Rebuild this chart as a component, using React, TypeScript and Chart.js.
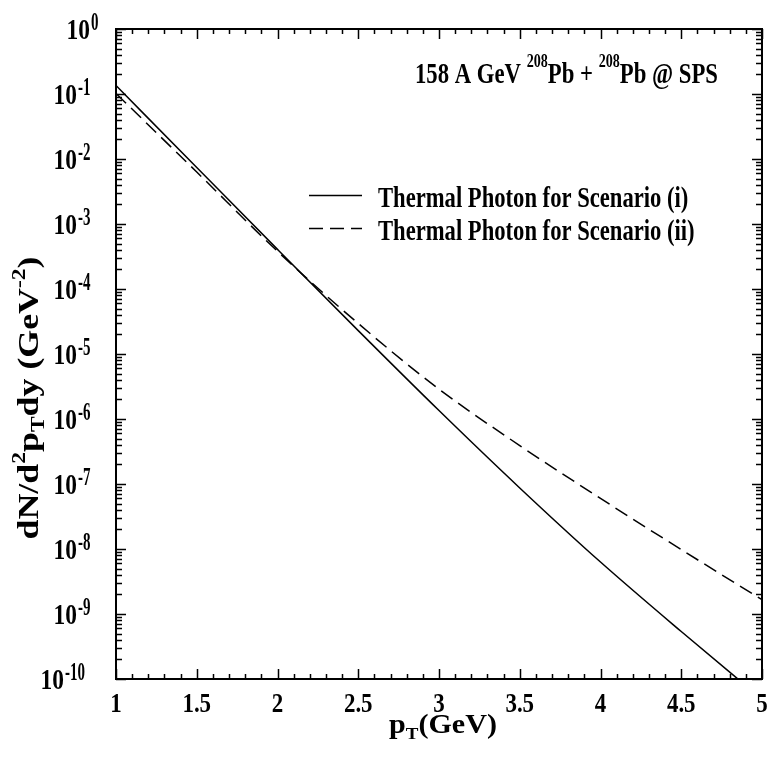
import { useEffect, useRef } from 'react';
import { Chart, registerables } from 'chart.js';

Chart.register(...registerables);

const pT = [1, 1.5, 2, 2.5, 3, 3.5, 4, 4.5, 5];
const scenarioI = [1.35e-1, 7.4e-3, 4.07e-4, 2.29e-5, 1.35e-6, 8.7e-8, 6.3e-9, 5.37e-10, 4.9e-11];
const scenarioII = [1.02e-1, 6.3e-3, 3.8e-4, 2.95e-5, 2.88e-6, 3.9e-7, 6.0e-8, 9.8e-9, 1.66e-9];
const xTickLabels = ['1', '1.5', '2', '2.5', '3', '3.5', '4', '4.5', '5'];
const yExponents = ['0', '-1', '-2', '-3', '-4', '-5', '-6', '-7', '-8', '-9', '-10'];
const legendLabels = ['Thermal Photon for Scenario (i)', 'Thermal Photon for Scenario (ii)'];

const FONT = '"Liberation Serif", "Times New Roman", serif';

type Part = { t: string; size: number; dy?: number };

function font(size: number) {
  return `bold ${size}px ${FONT}`;
}

function richWidth(ctx: CanvasRenderingContext2D, parts: Part[]) {
  let w = 0;
  for (const p of parts) {
    ctx.font = font(p.size);
    w += ctx.measureText(p.t).width;
  }
  return w;
}

function drawRich(ctx: CanvasRenderingContext2D, parts: Part[], x: number, y: number, sx: number) {
  ctx.save();
  ctx.translate(x, y);
  ctx.scale(sx, 1);
  ctx.textAlign = 'left';
  ctx.textBaseline = 'alphabetic';
  let cx = 0;
  for (const p of parts) {
    ctx.font = font(p.size);
    ctx.fillText(p.t, cx, p.dy || 0);
    cx += ctx.measureText(p.t).width;
  }
  ctx.restore();
}

const framePlugin = {
  id: 'framePlugin',
  afterDraw(chart: any) {
    const ctx: CanvasRenderingContext2D = chart.ctx;
    const { left, right, top, bottom } = chart.chartArea;
    const xs = chart.scales.x;
    const ys = chart.scales.y;
    ctx.save();
    ctx.fillStyle = '#000';
    ctx.strokeStyle = '#000';

    ctx.lineWidth = 1.5;
    ctx.beginPath();
    for (let i = 0; i <= 40; i++) {
      const v = 1 + i * 0.1;
      const px = Math.round(xs.getPixelForValue(v)) + 0.5;
      const len = i % 5 === 0 ? 10 : 5;
      ctx.moveTo(px, bottom);
      ctx.lineTo(px, bottom - len);
      ctx.moveTo(px, top);
      ctx.lineTo(px, top + len);
    }
    for (let k = 0; k >= -10; k--) {
      for (let m = 1; m <= 9; m++) {
        if (k === 0 && m > 1) break;
        const v = m * Math.pow(10, k);
        const py = Math.round(ys.getPixelForValue(v)) + 0.5;
        const len = m === 1 ? 10 : 6;
        ctx.moveTo(left, py);
        ctx.lineTo(left + len, py);
        ctx.moveTo(right, py);
        ctx.lineTo(right - len, py);
      }
    }
    ctx.stroke();

    ctx.lineWidth = 2;
    ctx.strokeRect(left, top, right - left, bottom - top);

    // x tick labels
    xTickLabels.forEach((lab, i) => {
      const px = xs.getPixelForValue(pT[i]);
      const parts = [{ t: lab, size: 28 }];
      const sx = 0.82;
      const w = richWidth(ctx, parts) * sx;
      drawRich(ctx, parts, px - w / 2, 712, sx);
    });

    // y tick labels
    yExponents.forEach((e, i) => {
      const py = ys.getPixelForValue(Math.pow(10, -i));
      const tenRight = 90 - 13 * (e.length - 1);
      ctx.font = font(30);
      const tenW = ctx.measureText('10').width * 0.78;
      drawRich(ctx, [{ t: '10', size: 30 }], tenRight - tenW, py + 10, 0.78);
      drawRich(ctx, [{ t: e, size: 25 }], tenRight + 1, py + 1, 0.6);
    });

    // x title
    const xt: Part[] = [
      { t: 'p', size: 27 },
      { t: 'T', size: 17, dy: 6 },
      { t: '(GeV)', size: 27 },
    ];
    {
      const target = 108;
      const sx = target / richWidth(ctx, xt);
      drawRich(ctx, xt, 443 - target / 2, 733, sx);
    }

    // y title
    const yt: Part[] = [
      { t: 'dN/d', size: 29 },
      { t: '2', size: 19, dy: -13 },
      { t: 'p', size: 29 },
      { t: 'T', size: 19, dy: 6 },
      { t: 'dy (GeV', size: 29 },
      { t: '-2', size: 19, dy: -13 },
      { t: ')', size: 29 },
    ];
    {
      const target = 283;
      const sx = target / richWidth(ctx, yt);
      ctx.save();
      ctx.translate(38, 398);
      ctx.rotate(-Math.PI / 2);
      drawRich(ctx, yt, -target / 2, 0, sx);
      ctx.restore();
    }

    // title
    const tt: Part[] = [
      { t: '158 A GeV ', size: 29 },
      { t: '208', size: 18, dy: -16 },
      { t: 'Pb + ', size: 29 },
      { t: '208', size: 18, dy: -16 },
      { t: 'Pb @ SPS', size: 29 },
    ];
    {
      const target = 303;
      const sx = target / richWidth(ctx, tt);
      drawRich(ctx, tt, 415, 83, sx);
    }

    // legend
    const rows = [
      { y: 195, dash: [] as number[] },
      { y: 228, dash: [14, 7] },
    ];
    rows.forEach((r, i) => {
      ctx.save();
      ctx.lineWidth = 1.5;
      ctx.setLineDash(r.dash);
      ctx.beginPath();
      ctx.moveTo(309, r.y + 0.5);
      ctx.lineTo(362, r.y + 0.5);
      ctx.stroke();
      ctx.restore();
      drawRich(ctx, [{ t: legendLabels[i], size: 29 }], 378, r.y + 12, 0.78);
    });

    ctx.restore();
  },
};

export default function App() {
  const ref = useRef<HTMLCanvasElement | null>(null);
  useEffect(() => {
    if (!ref.current) return;
    const chart = new Chart(ref.current, {
      type: 'line',
      data: {
        datasets: [
          {
            label: legendLabels[0],
            data: pT.map((x, i) => ({ x, y: scenarioI[i] })),
            borderColor: '#000',
            borderWidth: 1.5,
            pointRadius: 0,
            cubicInterpolationMode: 'monotone',
            fill: false,
          },
          {
            label: legendLabels[1],
            data: pT.map((x, i) => ({ x, y: scenarioII[i] })),
            borderColor: '#000',
            borderWidth: 1.5,
            borderDash: [14, 7],
            pointRadius: 0,
            cubicInterpolationMode: 'monotone',
            fill: false,
          },
        ],
      },
      options: {
        animation: false,
        responsive: false,
        devicePixelRatio: 1,
        layout: { padding: { left: 116, right: 5, top: 29, bottom: 80 } },
        plugins: { legend: { display: false }, tooltip: { enabled: false }, title: { display: false } },
        scales: {
          x: { type: 'linear', min: 1, max: 5, display: false },
          y: { type: 'logarithmic', min: 1e-10, max: 1, display: false },
        },
      },
      plugins: [framePlugin],
    });
    return () => chart.destroy();
  }, []);
  return (
    <div style={{ position: 'absolute', left: 0, top: 0, width: 767, height: 759, background: '#fff' }}>
      <canvas ref={ref} width={767} height={759} style={{ width: 767, height: 759 }} />
    </div>
  );
}
